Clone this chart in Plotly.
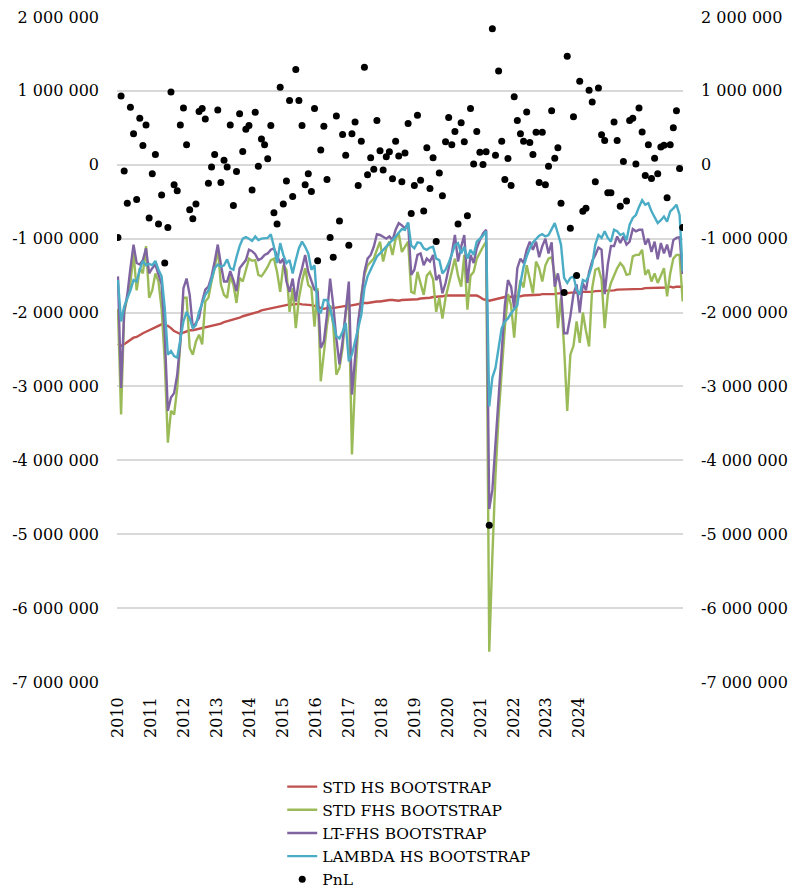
import plotly.graph_objects as go

# ---------------- data (values in millions) ----------------
years = [str(y) for y in range(2010, 2025)]
label_step = 10.56  # data points between two year labels

std_hs = [
    -2.42, -2.45, -2.43, -2.40, -2.36, -2.34, -2.33, -2.30, -2.28, -2.26,
    -2.24, -2.22, -2.21, -2.18, -2.16, -2.17, -2.18, -2.21, -2.25, -2.27,
    -2.29, -2.27, -2.25, -2.24, -2.24, -2.23, -2.22, -2.22, -2.20, -2.19,
    -2.18, -2.17, -2.16, -2.15, -2.13, -2.12, -2.10, -2.10, -2.08, -2.07,
    -2.05, -2.04, -2.03, -2.01, -2.00, -1.99, -1.97, -1.96, -1.95, -1.94,
    -1.93, -1.93, -1.92, -1.91, -1.90, -1.89, -1.89, -1.88, -1.88, -1.89,
    -1.89, -1.89, -1.90, -1.91, -1.92, -1.93, -1.95, -1.94, -1.93, -1.94,
    -1.93, -1.92, -1.92, -1.91, -1.91, -1.90, -1.90, -1.89, -1.88, -1.87,
    -1.87, -1.86, -1.86, -1.85, -1.85, -1.84, -1.84, -1.83, -1.83, -1.84,
    -1.84, -1.83, -1.83, -1.82, -1.82, -1.83, -1.82, -1.81, -1.81, -1.80,
    -1.80, -1.79, -1.79, -1.78, -1.78, -1.77, -1.77, -1.77, -1.76, -1.77,
    -1.77, -1.76, -1.77, -1.77, -1.76, -1.77, -1.79, -1.82, -1.83, -1.84,
    -1.83, -1.82, -1.80, -1.80, -1.79, -1.79, -1.79, -1.78, -1.78, -1.78,
    -1.77, -1.77, -1.77, -1.76, -1.76, -1.76, -1.75, -1.75, -1.76, -1.75,
    -1.75, -1.74, -1.74, -1.75, -1.74, -1.73, -1.73, -1.74, -1.73, -1.72,
    -1.72, -1.73, -1.72, -1.71, -1.71, -1.71, -1.70, -1.70, -1.70, -1.70,
    -1.69, -1.69, -1.69, -1.69, -1.68, -1.69, -1.68, -1.68, -1.68, -1.67,
    -1.67, -1.67, -1.66, -1.67, -1.66, -1.66, -1.66, -1.65, -1.66, -1.65,
    -1.65, -1.65,
]

std_fhs = [
    -1.95, -3.38, -2.00, -1.80, -1.60, -1.20, -1.70, -1.40, -1.47, -1.10,
    -1.80, -1.70, -1.47, -1.58, -1.95, -2.65, -3.76, -3.33, -3.38, -3.02,
    -2.43, -1.80, -1.80, -2.48, -2.57, -2.39, -2.30, -2.43, -1.85, -1.80,
    -1.58, -1.40, -1.13, -1.62, -1.76, -1.80, -1.51, -1.62, -1.87, -1.53,
    -1.58, -1.44, -1.27, -1.30, -1.29, -1.49, -1.51, -1.45, -1.38, -1.29,
    -1.27, -1.45, -1.72, -1.36, -1.42, -1.99, -1.67, -2.21, -1.81, -1.58,
    -1.40, -1.63, -1.67, -2.19, -1.67, -2.93, -2.57, -2.17, -1.90, -2.17,
    -2.84, -2.75, -2.48, -1.99, -1.85, -3.92, -2.93, -2.21, -1.76, -1.49,
    -1.36, -1.31, -1.27, -1.15, -1.04, -1.31, -1.13, -1.04, -1.22, -1.00,
    -0.93, -1.18, -1.10, -1.04, -1.72, -1.74, -1.45, -1.60, -1.76, -1.50,
    -1.45, -1.55, -1.99, -1.80, -2.08, -1.80, -1.62, -1.45, -1.27, -1.50,
    -1.65, -1.22, -1.96, -1.50, -1.45, -1.27, -1.18, -1.11, -1.04, -6.59,
    -5.30, -4.20, -3.40, -2.75, -2.20, -1.75, -1.90, -2.34, -1.80, -1.56,
    -1.66, -1.36, -1.56, -1.74, -1.31, -1.40, -1.58, -1.36, -1.27, -1.25,
    -1.50, -2.21, -1.80, -2.48, -3.33, -2.57, -2.45, -2.12, -2.41, -2.00,
    -2.25, -2.46, -1.67, -1.42, -1.40, -1.55, -2.21, -1.76, -1.60, -1.50,
    -1.40, -1.33, -1.38, -1.49, -1.48, -1.24, -1.22, -1.22, -1.15, -1.49,
    -1.42, -1.58, -1.47, -1.60, -1.50, -1.40, -1.78, -1.47, -1.27, -1.22,
    -1.22, -1.85,
]

lt_fhs = [
    -1.51, -3.02, -1.98, -1.76, -1.40, -1.08, -1.33, -1.35, -1.29, -1.13,
    -1.47, -1.40, -1.35, -1.47, -1.62, -2.30, -3.33, -3.15, -3.09, -2.84,
    -2.39, -1.67, -1.54, -1.76, -2.21, -2.14, -2.07, -1.85, -1.69, -1.65,
    -1.51, -1.31, -1.08, -1.35, -1.58, -1.58, -1.44, -1.56, -1.71, -1.40,
    -1.35, -1.29, -1.15, -1.17, -1.21, -1.29, -1.27, -1.22, -1.20, -1.15,
    -1.13, -1.22, -1.33, -1.27, -1.58, -1.72, -1.54, -1.85, -1.56, -1.40,
    -1.22, -1.45, -1.56, -1.69, -1.72, -2.48, -2.39, -2.03, -1.54, -1.90,
    -2.35, -2.70, -2.39, -1.94, -1.58, -3.11, -2.66, -2.12, -1.81, -1.45,
    -1.27, -1.22, -1.11, -0.94, -0.95, -0.97, -1.00, -0.97, -1.02, -0.88,
    -0.79, -0.82, -0.86, -0.79, -1.49, -1.42, -1.22, -1.20, -1.36, -1.27,
    -1.31, -1.22, -1.56, -1.49, -1.74, -1.60, -1.40, -1.20, -0.95, -1.31,
    -1.11, -0.95, -1.60, -1.22, -1.33, -1.13, -1.02, -0.93, -0.88, -4.66,
    -4.40, -3.75, -3.05, -2.45, -1.90, -1.56, -1.65, -1.94, -1.40, -1.27,
    -1.33, -1.15, -1.04, -1.15, -1.04, -1.25, -1.10, -1.00, -1.20, -1.05,
    -1.65, -1.47, -1.70, -2.28, -2.28, -2.05, -1.75, -1.62, -2.00, -1.60,
    -1.70, -1.45, -1.30, -1.22, -1.12, -1.15, -1.75, -1.35, -1.10, -1.10,
    -0.97, -1.06, -0.97, -1.08, -1.04, -0.87, -0.90, -0.88, -0.88, -1.08,
    -1.00, -1.18, -1.04, -1.28, -1.06, -1.20, -1.08, -1.25, -1.02, -0.99,
    -0.98, -1.48,
]

lambda_hs = [
    -1.56, -2.12, -1.92, -1.81, -1.70, -1.56, -1.58, -1.42, -1.30, -1.36,
    -1.34, -1.36, -1.30, -1.42, -1.51, -1.94, -2.57, -2.52, -2.59, -2.61,
    -2.39, -2.12, -1.99, -2.08, -2.21, -2.17, -1.99, -1.87, -1.76, -1.70,
    -1.55, -1.40, -1.35, -1.38, -1.36, -1.28, -1.40, -1.42, -1.25, -1.10,
    -1.00, -0.98, -1.00, -1.03, -0.97, -1.02, -1.00, -1.00, -0.99, -0.94,
    -1.11, -1.33, -1.06, -1.22, -1.33, -1.29, -1.47, -1.29, -1.13, -1.04,
    -1.11, -1.20, -1.42, -1.36, -1.96, -2.01, -1.83, -1.83, -1.94, -2.12,
    -2.32, -2.35, -2.26, -2.14, -2.66, -2.57, -2.39, -2.21, -2.03, -1.67,
    -1.51, -1.42, -1.33, -1.24, -1.20, -1.15, -1.11, -1.06, -1.02, -0.97,
    -0.93, -0.87, -0.88, -0.78, -1.09, -1.13, -1.05, -1.06, -1.13, -1.15,
    -1.12, -1.11, -1.27, -1.29, -1.47, -1.42, -1.33, -1.22, -1.09, -1.06,
    -1.20, -1.11, -1.27, -1.15, -1.22, -1.04, -1.00, -0.96, -0.90, -3.27,
    -2.88, -2.75, -2.48, -2.21, -2.12, -2.08, -2.01, -1.96, -1.90, -1.60,
    -1.38, -1.24, -1.13, -1.05, -1.00, -0.96, -0.94, -0.97, -0.95, -0.86,
    -0.79, -0.93, -1.08, -1.53, -1.60, -1.53, -1.51, -1.69, -1.76, -1.56,
    -1.58, -1.49, -1.35, -1.08, -0.95, -0.99, -0.90, -0.99, -1.04, -0.88,
    -0.90, -0.95, -0.93, -1.02, -0.81, -0.72, -0.68, -0.57, -0.48, -0.54,
    -0.52, -0.63, -0.72, -0.79, -0.75, -0.70, -0.77, -0.63, -0.59, -0.54,
    -0.68, -1.44,
]

pnl = [
    -0.985, 0.93, -0.085, -0.52, 0.78, 0.42, -0.47, 0.63, 0.26, 0.54,
    -0.72, -0.12, 0.14, -0.80, -0.41, -1.33, -0.85, 0.985, -0.27, -0.35,
    0.54, 0.77, 0.27, -0.61, -0.73, -0.53, 0.72, 0.76, 0.62, -0.25,
    -0.03, 0.14, 0.74, -0.24, 0.06, -0.03, 0.54, -0.55, -0.09, 0.69,
    0.18, 0.48, 0.53, -0.34, 0.71, -0.02, 0.35, 0.27, 0.08, 0.53,
    -0.65, -0.80, 1.05, -0.53, -0.22, 0.87, -0.43, 1.29, 0.87, 0.53,
    -0.27, -0.12, -0.36, 0.76, -1.30, 0.20, 0.52, -0.20, -0.985, -1.25,
    0.66, -0.76, 0.41, 0.13, -1.09, 0.42, 0.58, -0.28, 0.32, 1.32,
    -0.135, 0.095, -0.06, 0.60, 0.19, -0.07, 0.11, 0.175, -0.19, 0.32,
    0.12, -0.23, 0.16, 0.56, -0.66, -0.28, 0.67, -0.21, -0.625, 0.23,
    -0.32, 0.095, -1.04, -0.11, -0.42, 0.31, 0.64, 0.27, 0.45, -0.80,
    0.57, 0.31, -0.69, 0.76, 0.01, 0.45, 0.17, 0.005, 0.175, -4.88,
    1.84, 0.13, 1.27, 0.32, -0.20, 0.085, -0.28, 0.92, 0.60, 0.42,
    0.32, 0.715, 0.30, 0.14, 0.44, -0.24, 0.44, -0.27, -0.02, 0.73,
    0.09, 0.23, -0.52, -1.73, 1.47, -0.86, 0.65, -1.50, 1.13, -0.63,
    -0.59, 1.01, 0.85, -0.23, 1.04, 0.405, 0.33, -0.38, -0.38, 0.58,
    0.33, -0.56, 0.045, -0.49, 0.60, 0.63, 0.01, 0.77, 0.445, -0.145,
    0.27, -0.185, 0.09, -0.12, 0.24, 0.265, -0.445, 0.27, 0.50, 0.73,
    -0.05, -0.85,
]

y_ticks = list(range(-7_000_000, 2_000_001, 1_000_000))
y_tick_labels = [f"{v:,}".replace(",", " ") for v in y_ticks]

# ---------------- figure ----------------
UNIT = 1e6
FONT = "DejaVu Serif"
n = len(pnl)
x = list(range(n))
x_tick_pos = [k * label_step for k in range(len(years))]

series = [
    ("STD HS BOOTSTRAP", std_hs, "#C0504D"),
    ("STD FHS BOOTSTRAP", std_fhs, "#9BBB59"),
    ("LT-FHS BOOTSTRAP", lt_fhs, "#8064A2"),
    ("LAMBDA HS BOOTSTRAP", lambda_hs, "#4BACC6"),
]

fig = go.Figure()
for name, vals, color in series:
    fig.add_trace(go.Scatter(
        x=x, y=[v * UNIT for v in vals], name=name, mode="lines",
        line=dict(color=color, width=2.4),
    ))
fig.add_trace(go.Scatter(
    x=x, y=[v * UNIT for v in pnl], name="PnL", mode="markers",
    marker=dict(color="black", size=7), yaxis="y2",
))

yaxis_common = dict(
    range=[-7_000_000, 2_000_000], tickvals=y_ticks, ticktext=y_tick_labels,
    zeroline=False, showline=False, ticks="", automargin=False,
    ticklabeloverflow="allow",
    tickfont=dict(family=FONT, size=16, color="#000"),
)

fig.update_layout(
    width=788, height=881, autosize=False,
    margin=dict(l=109, r=113, t=9, b=207, autoexpand=False),
    paper_bgcolor="white", plot_bgcolor="white",
    font=dict(family=FONT, size=16, color="#000"),
    showlegend=True,
    legend=dict(
        orientation="v", xref="container", yref="container",
        x=0.348, y=0.135, xanchor="left", yanchor="top",
        font=dict(family=FONT, size=15.5, color="#000"),
        tracegroupgap=0, bgcolor="rgba(0,0,0,0)",
    ),
    xaxis=dict(
        range=[-0.3, n - 0.9], tickvals=x_tick_pos, ticktext=years,
        tickangle=-90, showgrid=False, zeroline=False, showline=False,
        ticks="", automargin=False,
        tickfont=dict(family=FONT, size=16, color="#000"),
        ticklabelstandoff=11,
    ),
    yaxis=dict(**yaxis_common, showgrid=True, gridcolor="#D9D9D9",
               gridwidth=1.5, ticklabelstandoff=17),
    yaxis2=dict(**yaxis_common, overlaying="y", side="right", showgrid=False,
                ticklabelstandoff=17),
)

fig.write_html("out.html")
